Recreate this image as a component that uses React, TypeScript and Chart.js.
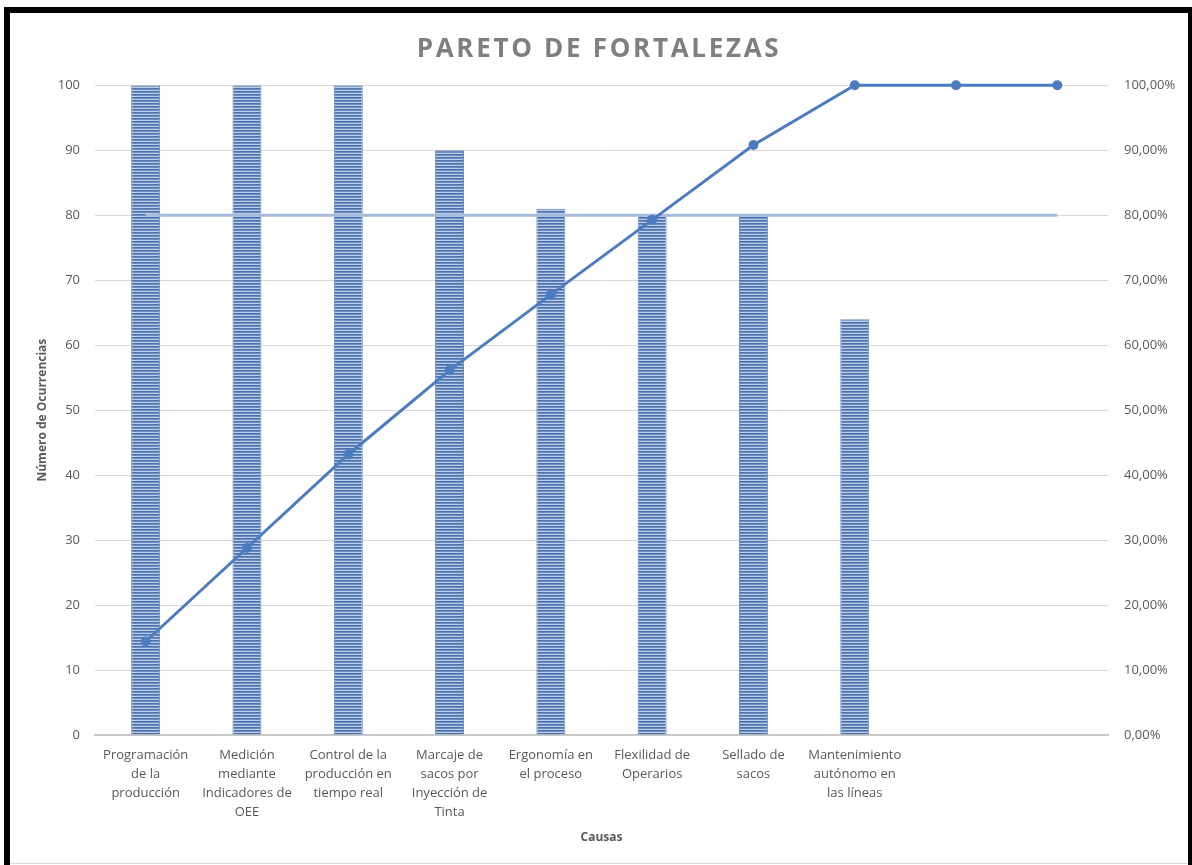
import React, { useEffect, useRef } from "react";
import { Chart, registerables } from "chart.js";

Chart.register(...registerables);

const categories: string[][] = [
  ["Programación", "de la", "producción"],
  ["Medición", "mediante", "Indicadores de", "OEE"],
  ["Control de la", "producción en", "tiempo real"],
  ["Marcaje de", "sacos por", "Inyección de", "Tinta"],
  ["Ergonomía en", "el proceso"],
  ["Flexilidad de", "Operarios"],
  ["Sellado de", "sacos"],
  ["Mantenimiento", "autónomo en", "las líneas"],
  [""],
  [""],
];

const occurrences: (number | null)[] = [100, 100, 100, 90, 81, 80, 80, 64, null, null];
const cumulativePct: number[] = [14.39, 28.78, 43.17, 56.12, 67.77, 79.28, 90.79, 100, 100, 100];
const thresholdPct: number[] = [80, 80, 80, 80, 80, 80, 80, 80, 80, 80];

const titleText = "PARETO DE FORTALEZAS";
const yTitle = "Número de Ocurrencias";
const xTitle = "Causas";

const FONT = "'Open Sans', sans-serif";
const TICK_COLOR = "#595959";

function makeStripePattern(): CanvasPattern | string {
  const pc = document.createElement("canvas");
  pc.width = 4;
  pc.height = 3;
  const c = pc.getContext("2d");
  if (!c) return "#6f8fc4";
  c.fillStyle = "#4d72ab";
  c.fillRect(0, 0, 4, 1);
  c.fillStyle = "#6a8cc2";
  c.fillRect(0, 1, 4, 1);
  c.fillStyle = "#bccde7";
  c.fillRect(0, 2, 4, 1);
  const main = document.createElement("canvas").getContext("2d");
  const p = main ? main.createPattern(pc, "repeat") : null;
  return p || "#6f8fc4";
}

const spacedTitlePlugin = {
  id: "spacedTitle",
  beforeDraw(chart: any) {
    const tb = chart.titleBlock;
    if (tb && !tb.__spaced) {
      const orig = tb.draw.bind(tb);
      tb.draw = function () {
        const ctx = chart.ctx;
        ctx.save();
        (ctx as any).letterSpacing = "2.7px";
        orig();
        ctx.restore();
      };
      tb.__spaced = true;
    }
  },
};

export default function App() {
  const ref = useRef<HTMLCanvasElement | null>(null);

  useEffect(() => {
    if (!ref.current) return;
    const pattern = makeStripePattern();
    const chart = new Chart(ref.current, {
      type: "bar",
      data: {
        labels: categories,
        datasets: [
          {
            type: "line",
            label: "Acumulado",
            data: cumulativePct,
            yAxisID: "y1",
            borderColor: "#4a7cbf",
            backgroundColor: "#4a7cbf",
            borderWidth: 3,
            pointRadius: 5,
            pointBorderWidth: 0,
            pointBackgroundColor: "#4a7cbf",
            tension: 0,
            clip: false,
            order: 1,
          },
          {
            type: "line",
            label: "80%",
            data: thresholdPct,
            yAxisID: "y1",
            borderColor: "#a7bbdd",
            backgroundColor: "#a7bbdd",
            borderWidth: 3,
            pointRadius: 0,
            tension: 0,
            clip: false,
            order: 2,
          },
          {
            type: "bar",
            label: "Ocurrencias",
            data: occurrences,
            yAxisID: "y",
            backgroundColor: pattern as any,
            borderColor: "#6a8bc0",
            borderWidth: { left: 1, right: 1, top: 1, bottom: 0 },
            borderSkipped: false,
            barPercentage: 0.286,
            categoryPercentage: 1.0,
            order: 3,
          },
        ],
      },
      options: {
        responsive: false,
        animation: false,
        layout: { padding: { left: 0, right: 0, top: 0, bottom: 0 } },
        plugins: {
          legend: { display: false },
          tooltip: { enabled: false },
          title: {
            display: true,
            text: titleText,
            color: "#7f7f7f",
            font: { family: FONT, size: 26, weight: "bold" },
            padding: { top: 21, bottom: 20 },
          },
        },
        scales: {
          x: {
            grid: { display: false, drawTicks: false },
            border: { display: true, color: "#c8c8c8", width: 2 },
            ticks: {
              color: TICK_COLOR,
              font: { family: FONT, size: 13, lineHeight: 1.46 },
              padding: 11,
              maxRotation: 0,
              minRotation: 0,
              autoSkip: false,
            },
            title: {
              display: true,
              text: xTitle,
              color: TICK_COLOR,
              font: { family: FONT, size: 12, weight: "bold" },
              padding: { top: 0, bottom: 18 },
            },
            afterFit(scale: any) {
              scale.height = 128;
            },
          },
          y: {
            position: "left",
            min: 0,
            max: 100,
            ticks: {
              stepSize: 10,
              color: TICK_COLOR,
              font: { family: FONT, size: 13 },
              padding: 15,
            },
            grid: { color: "#d9d9d9", lineWidth: 1, drawTicks: false },
            border: { display: false },
            title: {
              display: true,
              text: yTitle,
              color: TICK_COLOR,
              font: { family: FONT, size: 12, weight: "bold" },
              padding: { top: 25, bottom: 0 },
            },
            afterFit(scale: any) {
              scale.width = 85;
            },
          },
          y1: {
            position: "right",
            min: 0,
            max: 100,
            ticks: {
              stepSize: 10,
              color: TICK_COLOR,
              font: { family: FONT, size: 13 },
              padding: 16,
              callback: (v: any) => Number(v).toFixed(2).replace(".", ",") + "%",
            },
            grid: { display: false, drawTicks: false },
            border: { display: false },
            afterFit(scale: any) {
              scale.width = 80;
            },
          },
        },
      },
      plugins: [spacedTitlePlugin],
    } as any);
    return () => chart.destroy();
  }, []);

  return (
    <div
      style={{
        position: "fixed",
        left: 0,
        top: 0,
        width: 1192,
        height: 865,
        background: "#ffffff",
        overflow: "hidden",
      }}
    >
      <div
        style={{
          position: "absolute",
          left: 4,
          top: 7,
          width: 1188,
          height: 870,
          boxSizing: "border-box",
          borderTop: "6px solid #000",
          borderLeft: "6px solid #000",
          borderRight: "4px solid #000",
          borderBottom: "none",
        }}
      >
        <div
          style={{
            position: "absolute",
            left: 0,
            top: 0,
            width: 1178,
            height: 850,
            borderBottom: "1px solid #d9d9d9",
          }}
        >
          <canvas ref={ref} width={1178} height={850} style={{ display: "block" }} />
        </div>
      </div>
    </div>
  );
}
